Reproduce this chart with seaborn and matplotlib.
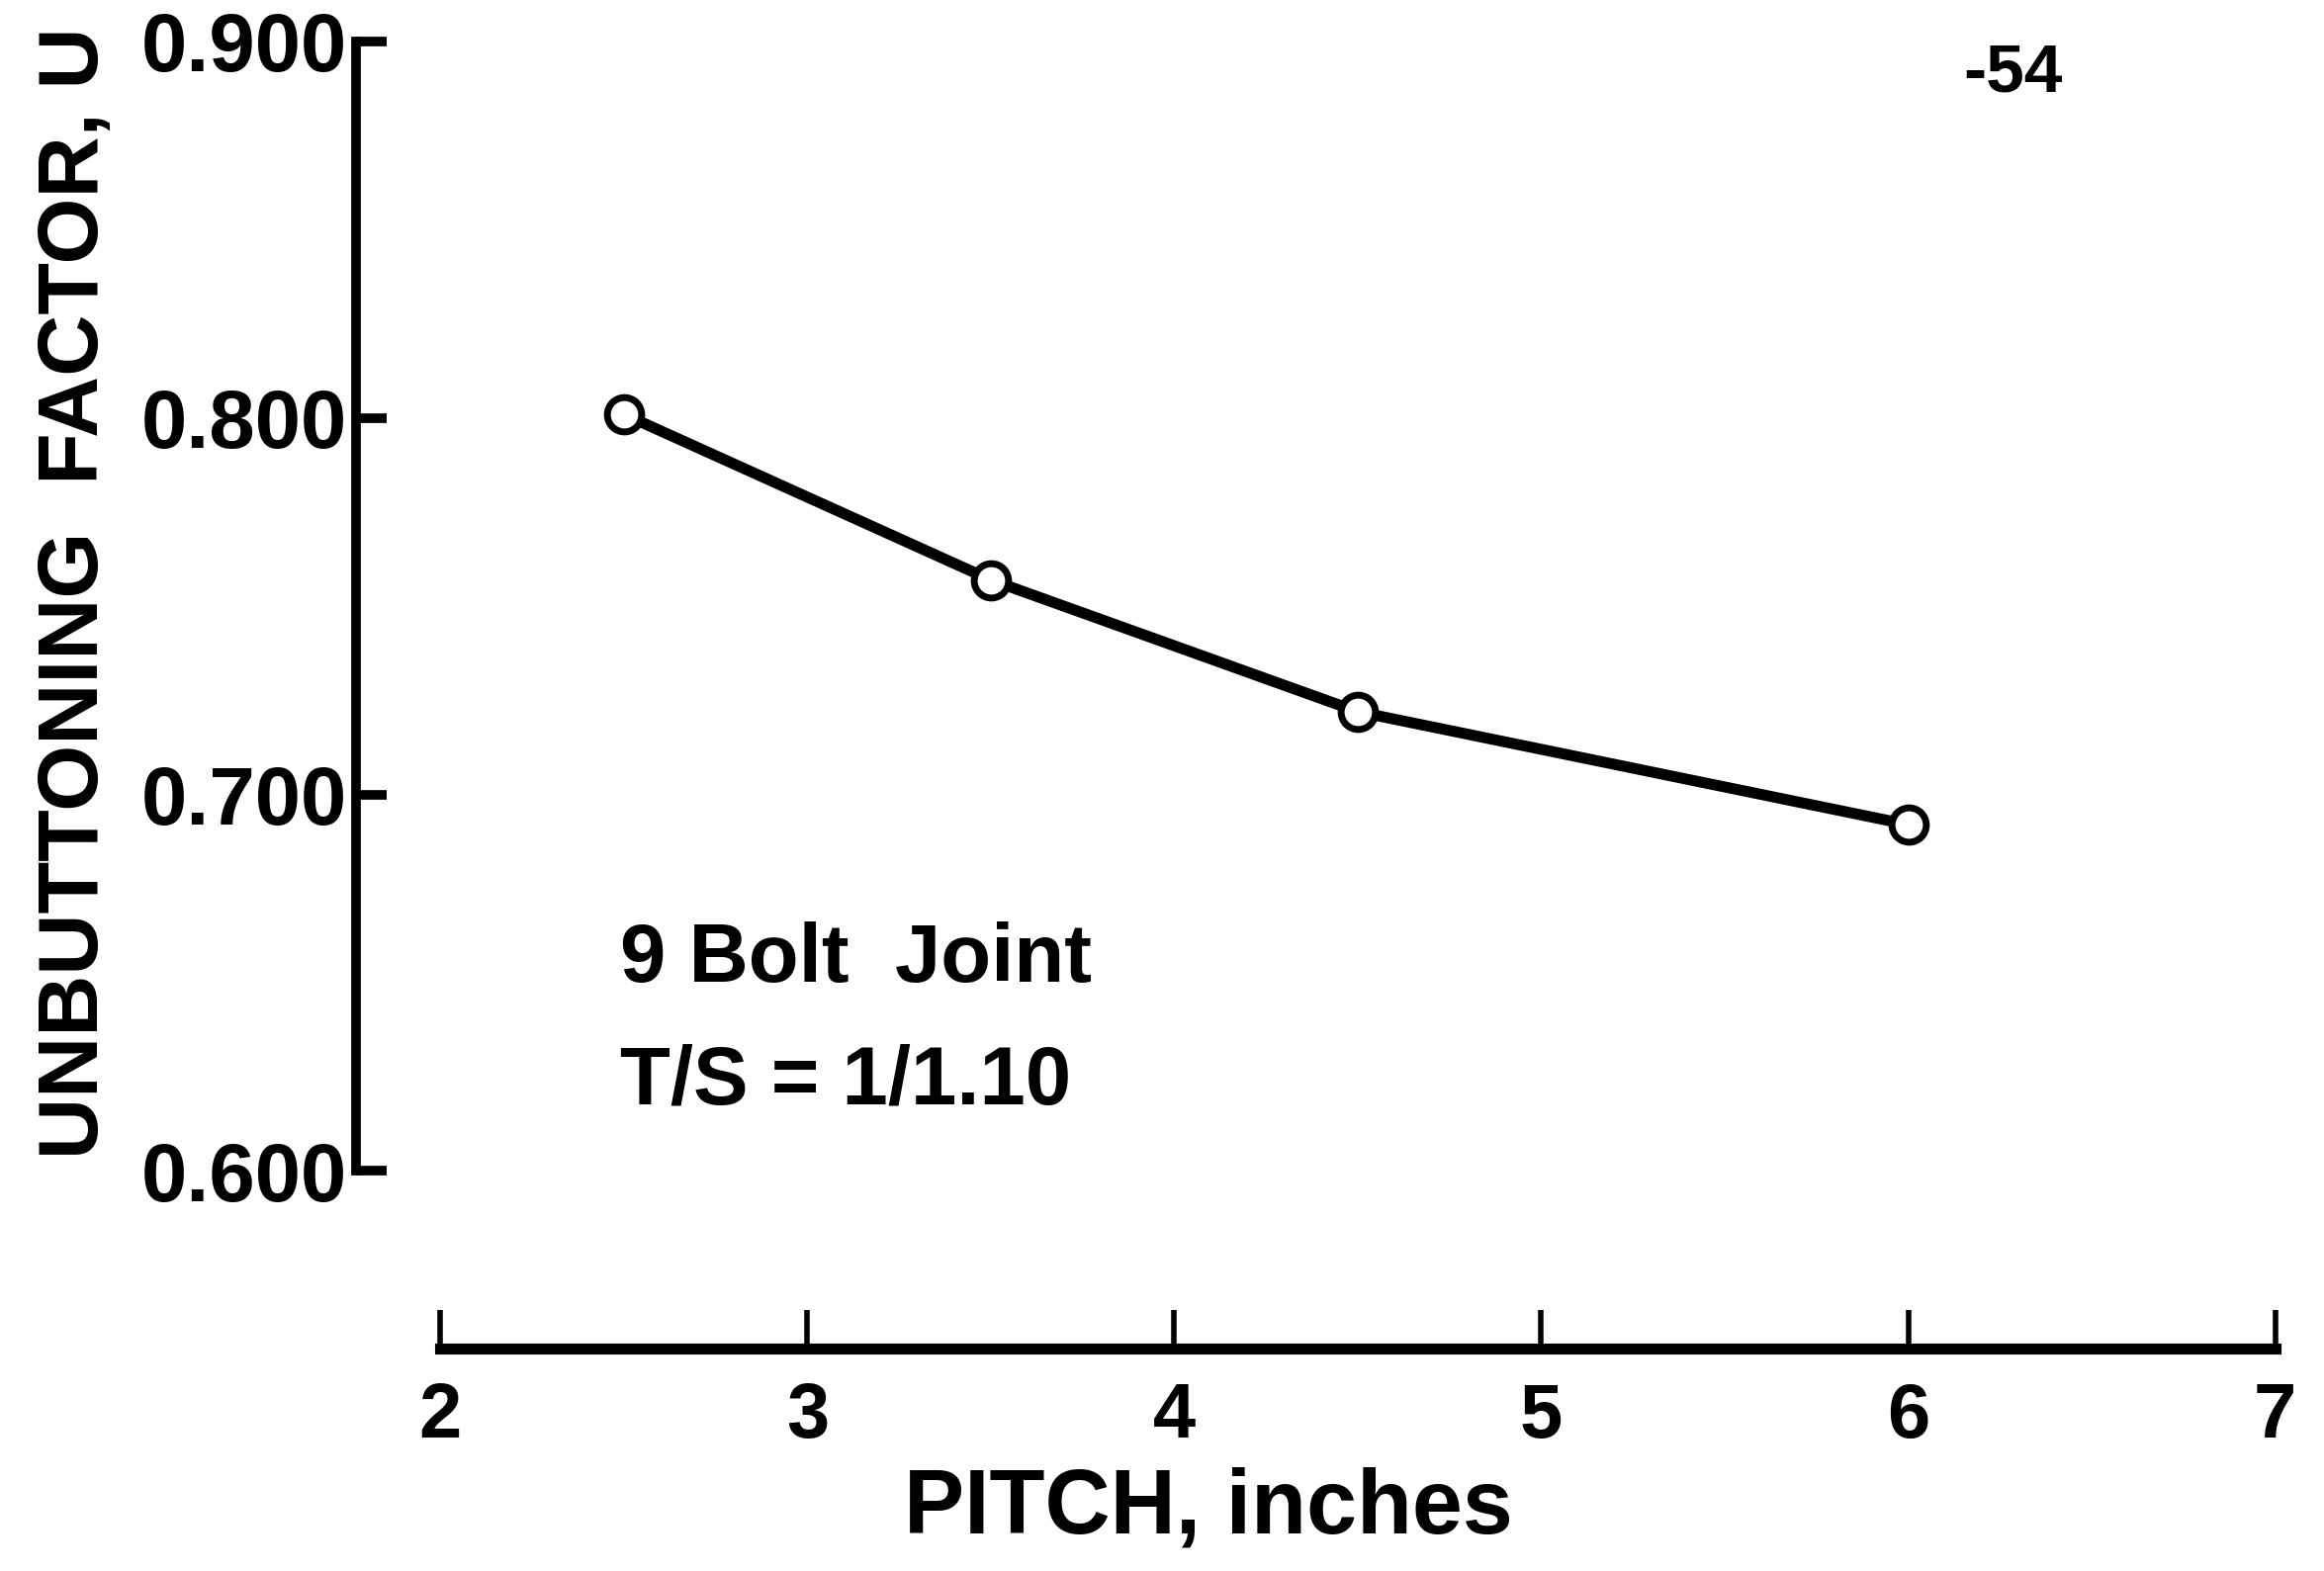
import matplotlib
matplotlib.use("Agg")
import matplotlib.pyplot as plt
import seaborn as sns
import pandas as pd

# values
pitch = [2.5, 3.5, 4.5, 6.0]
factor = [0.801, 0.757, 0.722, 0.692]
x_ticks = [2, 3, 4, 5, 6, 7]
x_tick_labels = ["2", "3", "4", "5", "6", "7"]
y_ticks = [0.600, 0.700, 0.800, 0.900]
y_tick_labels = ["0.600", "0.700", "0.800", "0.900"]

sns.set_theme(style="white")
plt.rcParams['font.family'] = ['Liberation Sans', 'DejaVu Sans']
plt.rcParams['font.weight'] = 'bold'

fig = plt.figure(figsize=(23.5, 15.89), dpi=100)
fig.patch.set_facecolor("white")
ax = fig.add_axes([0.1531, 0.1415, 0.8259, 0.8321])
ax.set_facecolor("white")

df = pd.DataFrame({"pitch": pitch, "factor": factor})
sns.lineplot(data=df, x="pitch", y="factor", ax=ax, color="black", linewidth=8,
             marker="o", markersize=25, markerfacecolor="white",
             markeredgecolor="black", markeredgewidth=5, clip_on=False, zorder=3)

ax.set_xlim(1.77, 7.0)
ax.set_ylim(0.5528, 0.900)

for side in ["top", "right"]:
    ax.spines[side].set_visible(False)
ax.spines["left"].set_bounds(0.600, 0.900)
ax.spines["bottom"].set_bounds(2, 7)
ax.spines["left"].set_linewidth(7)
ax.spines["bottom"].set_linewidth(8)
for s in ax.spines.values():
    s.set_color("black")
    s.set_capstyle("projecting")

ax.set_yticks(y_ticks, labels=y_tick_labels)
ax.set_xticks(x_ticks, labels=x_tick_labels)
# seaborn's white style switches the ticks off, turn them back on
ax.tick_params(axis="y", left=True, direction="in", length=22, width=7, pad=6,
               labelsize=60, colors="black")
ax.tick_params(axis="x", bottom=True, direction="in", length=28, width=4, pad=24,
               labelsize=56, colors="black")

ax.set_ylabel("UNBUTTONING  FACTOR, U", fontsize=62, fontweight="bold",
              color="black")
ax.yaxis.set_label_coords(-0.125, 0.578)
ax.set_xlabel("PITCH, inches", fontsize=66, fontweight="bold", color="black")
ax.xaxis.set_label_coords(0.444, -0.09)

ax.text(0.1375, 0.281, "9 Bolt  Joint", transform=ax.transAxes, fontsize=60,
        fontweight="bold", va="baseline", ha="left", color="black")
ax.text(0.1375, 0.187, "T/S = 1/1.10", transform=ax.transAxes, fontsize=60,
        fontweight="bold", va="baseline", ha="left", color="black")
fig.text(0.845, 0.9415, "-54", fontsize=50, fontweight="bold", va="baseline",
         ha="left", color="black")

fig.savefig("out.png", dpi=100, facecolor="white")
